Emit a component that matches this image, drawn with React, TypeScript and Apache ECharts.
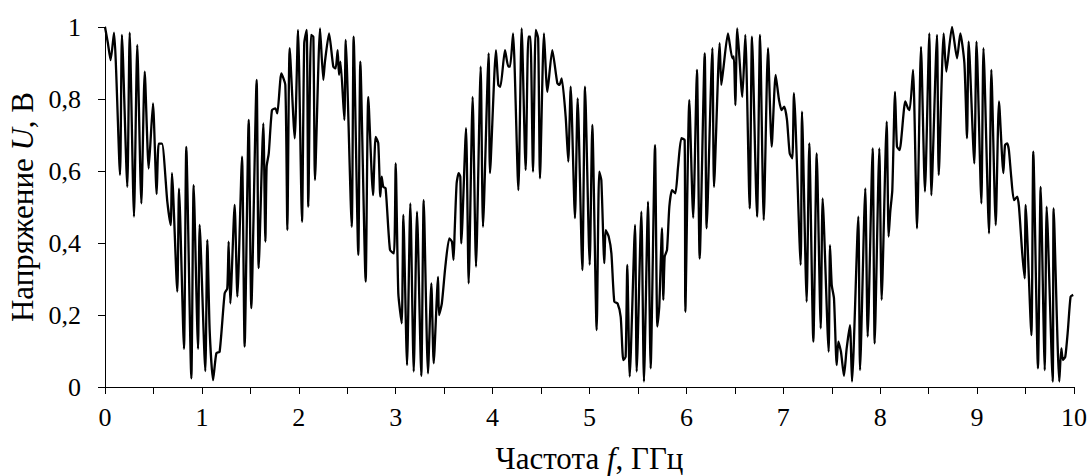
import React, { useEffect, useRef } from "react";
import * as echarts from "echarts";

// Frequency, GHz
const FREQ_GHZ: number[] = [
  0.0, 0.03, 0.058, 0.093, 0.155, 0.175, 0.23, 0.255, 0.299, 0.333, 0.375, 0.41, 0.451, 0.495, 0.533, 0.554, 0.588, 0.643, 0.678, 0.691,
  0.746, 0.764, 0.815, 0.839, 0.891, 0.915, 0.96, 0.977, 1.035, 1.056, 1.08, 1.115, 1.149, 1.183, 1.235, 1.262, 1.276, 1.293, 1.338, 1.366,
  1.414, 1.441, 1.483, 1.51, 1.565, 1.586, 1.634, 1.655, 1.668, 1.69, 1.723, 1.758, 1.778, 1.82, 1.861, 1.882, 1.906, 1.958, 1.992, 2.033,
  2.056, 2.081, 2.098, 2.126, 2.15, 2.167, 2.219, 2.253, 2.27, 2.312, 2.356, 2.38, 2.401, 2.415, 2.43, 2.47, 2.484, 2.546, 2.566, 2.614,
  2.635, 2.69, 2.717, 2.766, 2.793, 2.82, 2.841, 2.855, 2.872, 2.896, 2.941, 2.982, 3.0, 3.027, 3.062, 3.079, 3.117, 3.151, 3.186, 3.22,
  3.264, 3.289, 3.333, 3.368, 3.392, 3.437, 3.447, 3.476, 3.512, 3.553, 3.58, 3.597, 3.609, 3.629, 3.65, 3.667, 3.677, 3.726, 3.753, 3.794,
  3.829, 3.877, 3.901, 3.959, 3.973, 4.035, 4.059, 4.08, 4.128, 4.162, 4.18, 4.211, 4.266, 4.3, 4.341, 4.369, 4.39, 4.417, 4.445, 4.47,
  4.489, 4.53, 4.565, 4.616, 4.668, 4.69, 4.713, 4.754, 4.781, 4.806, 4.85, 4.878, 4.926, 4.954, 5.002, 5.029, 5.074, 5.1, 5.122, 5.153,
  5.167, 5.198, 5.226, 5.256, 5.29, 5.322, 5.349, 5.373, 5.39, 5.415, 5.47, 5.487, 5.535, 5.562, 5.604, 5.631, 5.676, 5.7, 5.72, 5.748,
  5.762, 5.776, 5.8, 5.824, 5.852, 5.886, 5.914, 5.948, 5.982, 5.989, 6.03, 6.07, 6.109, 6.137, 6.189, 6.209, 6.268, 6.285, 6.343, 6.36,
  6.38, 6.429, 6.474, 6.49, 6.505, 6.525, 6.577, 6.608, 6.653, 6.677, 6.729, 6.76, 6.798, 6.842, 6.88, 6.921, 6.956, 6.983, 7.01, 7.038,
  7.066, 7.093, 7.11, 7.179, 7.193, 7.241, 7.268, 7.31, 7.345, 7.386, 7.406, 7.468, 7.482, 7.5, 7.523, 7.551, 7.568, 7.595, 7.626, 7.654,
  7.688, 7.709, 7.774, 7.792, 7.846, 7.871, 7.922, 7.943, 7.991, 8.015, 8.067, 8.087, 8.104, 8.125, 8.153, 8.173, 8.2, 8.259, 8.287, 8.304,
  8.339, 8.38, 8.421, 8.462, 8.507, 8.528, 8.586, 8.604, 8.655, 8.682, 8.741, 8.793, 8.827, 8.869, 8.896, 8.913, 8.971, 8.994, 9.044, 9.066,
  9.123, 9.147, 9.192, 9.226, 9.271, 9.288, 9.311, 9.328, 9.352, 9.38, 9.414, 9.432, 9.466, 9.491, 9.501, 9.56, 9.58, 9.628, 9.656, 9.698,
  9.718, 9.78, 9.79, 9.848, 9.869, 9.886, 9.91, 9.937, 9.965, 9.992,
];

// Voltage U, V
const VOLTAGE: number[] = [
  1.0, 0.955, 0.908, 0.984, 0.589, 0.978, 0.556, 0.984, 0.473, 0.95, 0.51, 0.876, 0.607, 0.788, 0.536, 0.676, 0.676, 0.515, 0.45, 0.594,
  0.265, 0.551, 0.106, 0.667, 0.024, 0.561, 0.106, 0.45, 0.044, 0.408, 0.158, 0.019, 0.094, 0.098, 0.26, 0.274, 0.404, 0.232, 0.506, 0.251,
  0.64, 0.112, 0.742, 0.219, 0.853, 0.33, 0.732, 0.404, 0.612, 0.649, 0.769, 0.774, 0.76, 0.871, 0.839, 0.436, 0.941, 0.691, 0.992, 0.459,
  0.955, 0.992, 0.501, 0.978, 0.973, 0.575, 0.996, 0.853, 0.904, 0.982, 0.89, 0.885, 0.936, 0.867, 0.904, 0.742, 0.964, 0.445, 0.973, 0.367,
  0.904, 0.293, 0.806, 0.533, 0.695, 0.677, 0.529, 0.584, 0.556, 0.552, 0.381, 0.371, 0.621, 0.26, 0.177, 0.478, 0.061, 0.51, 0.043, 0.487,
  0.031, 0.519, 0.038, 0.288, 0.066, 0.306, 0.2, 0.232, 0.334, 0.413, 0.404, 0.353, 0.436, 0.566, 0.594, 0.584, 0.399, 0.719, 0.288, 0.806,
  0.334, 0.89, 0.445, 0.927, 0.594, 0.936, 0.839, 0.834, 0.936, 0.89, 0.89, 0.982, 0.547, 0.996, 0.603, 0.973, 0.973, 0.598, 0.992, 0.969,
  0.58, 0.982, 0.82, 0.936, 0.844, 0.839, 0.857, 0.751, 0.626, 0.834, 0.469, 0.802, 0.325, 0.834, 0.339, 0.728, 0.158, 0.598, 0.575, 0.344,
  0.436, 0.418, 0.371, 0.237, 0.232, 0.195, 0.075, 0.084, 0.339, 0.029, 0.45, 0.043, 0.487, 0.015, 0.515, 0.052, 0.672, 0.168, 0.223, 0.441,
  0.242, 0.362, 0.381, 0.501, 0.547, 0.538, 0.612, 0.691, 0.686, 0.209, 0.797, 0.47, 0.881, 0.357, 0.927, 0.441, 0.941, 0.556, 0.955, 0.839,
  0.881, 0.982, 0.913, 0.918, 0.783, 0.996, 0.806, 0.978, 0.496, 0.973, 0.473, 0.978, 0.464, 0.941, 0.668, 0.867, 0.797, 0.769, 0.779, 0.742,
  0.649, 0.635, 0.816, 0.339, 0.765, 0.237, 0.677, 0.126, 0.649, 0.163, 0.524, 0.098, 0.394, 0.283, 0.246, 0.061, 0.126, 0.098, 0.031, 0.107,
  0.172, 0.015, 0.473, 0.047, 0.552, 0.14, 0.663, 0.121, 0.663, 0.242, 0.737, 0.418, 0.487, 0.547, 0.82, 0.668, 0.658, 0.793, 0.774, 0.769,
  0.881, 0.441, 0.945, 0.543, 0.982, 0.533, 0.978, 0.589, 0.982, 0.876, 1.0, 0.913, 0.982, 0.899, 0.691, 0.959, 0.621, 0.959, 0.51, 0.941,
  0.427, 0.881, 0.45, 0.793, 0.594, 0.672, 0.677, 0.658, 0.584, 0.519, 0.529, 0.501, 0.371, 0.302, 0.506, 0.144, 0.654, 0.052, 0.556, 0.047,
  0.501, 0.015, 0.496, 0.015, 0.107, 0.075, 0.084, 0.158, 0.251, 0.256,
];

const X_MIN = 0;
const X_MAX = 10;
const X_STEP = 0.5;
const Y_MIN = 0;
const Y_MAX = 1;
const Y_STEP = 0.2;

const X_TITLE = "Частота {i|f}, ГГц";
const Y_TITLE = "Напряжение {i|U}, В";

const FONT = "'Liberation Serif', 'Times New Roman', serif";

export default function App() {
  const ref = useRef<HTMLDivElement>(null);

  useEffect(() => {
    if (!ref.current) return;
    const chart = echarts.init(ref.current, undefined, { renderer: "svg" });
    const n = Math.min(FREQ_GHZ.length, VOLTAGE.length);
    const data: [number, number][] = [];
    for (let k = 0; k < n; k++) data.push([FREQ_GHZ[k], VOLTAGE[k]]);

    const axisLineStyle = { color: "#000", width: 1 };
    const titleStyle = {
      color: "#000",
      fontFamily: FONT,
      fontSize: 31,
      rich: { i: { fontStyle: "italic", fontFamily: FONT, fontSize: 31, color: "#000" } },
    };
    chart.setOption({
      animation: false,
      backgroundColor: "#fff",
      grid: {
        left: 105,
        right: 16,
        top: 27,
        bottom: 89,
        containLabel: false,
        outerBoundsMode: "none",
      },
      xAxis: {
        type: "value",
        min: X_MIN,
        max: X_MAX,
        interval: X_STEP,
        axisLine: { show: true, lineStyle: axisLineStyle },
        axisTick: { show: true, inside: false, length: 7, lineStyle: axisLineStyle },
        splitLine: { show: false },
        axisLabel: {
          color: "#000",
          fontFamily: FONT,
          fontSize: 26,
          margin: 17,
          formatter: (v: number) => (Math.abs(v - Math.round(v)) < 1e-6 ? String(Math.round(v)) : ""),
        },
        name: X_TITLE,
        nameLocation: "middle",
        nameGap: 56,
        nameTextStyle: titleStyle,
      },
      yAxis: {
        type: "value",
        min: Y_MIN,
        max: Y_MAX,
        interval: Y_STEP,
        axisLine: { show: true, lineStyle: axisLineStyle },
        axisTick: { show: true, inside: false, length: 7, lineStyle: axisLineStyle },
        splitLine: { show: false },
        axisLabel: {
          color: "#000",
          fontFamily: FONT,
          fontSize: 26,
          margin: 24,
          formatter: (v: number) => {
            if (Math.abs(v) < 1e-9) return "0";
            if (Math.abs(v - 1) < 1e-9) return "1";
            return v.toFixed(1).replace(".", ",");
          },
        },
        name: Y_TITLE,
        nameLocation: "middle",
        nameGap: 66,
        nameRotate: 90,
        nameTextStyle: titleStyle,
      },
      series: [
        {
          type: "line",
          data,
          showSymbol: false,
          symbol: "none",
          smooth: 0.2,
          lineStyle: { color: "#000", width: 2.3 },
          clip: true,
        },
      ],
    });
    return () => chart.dispose();
  }, []);

  return (
    <div
      ref={ref}
      style={{ position: "absolute", left: 0, top: 0, width: 1090, height: 476, background: "#fff" }}
    />
  );
}
